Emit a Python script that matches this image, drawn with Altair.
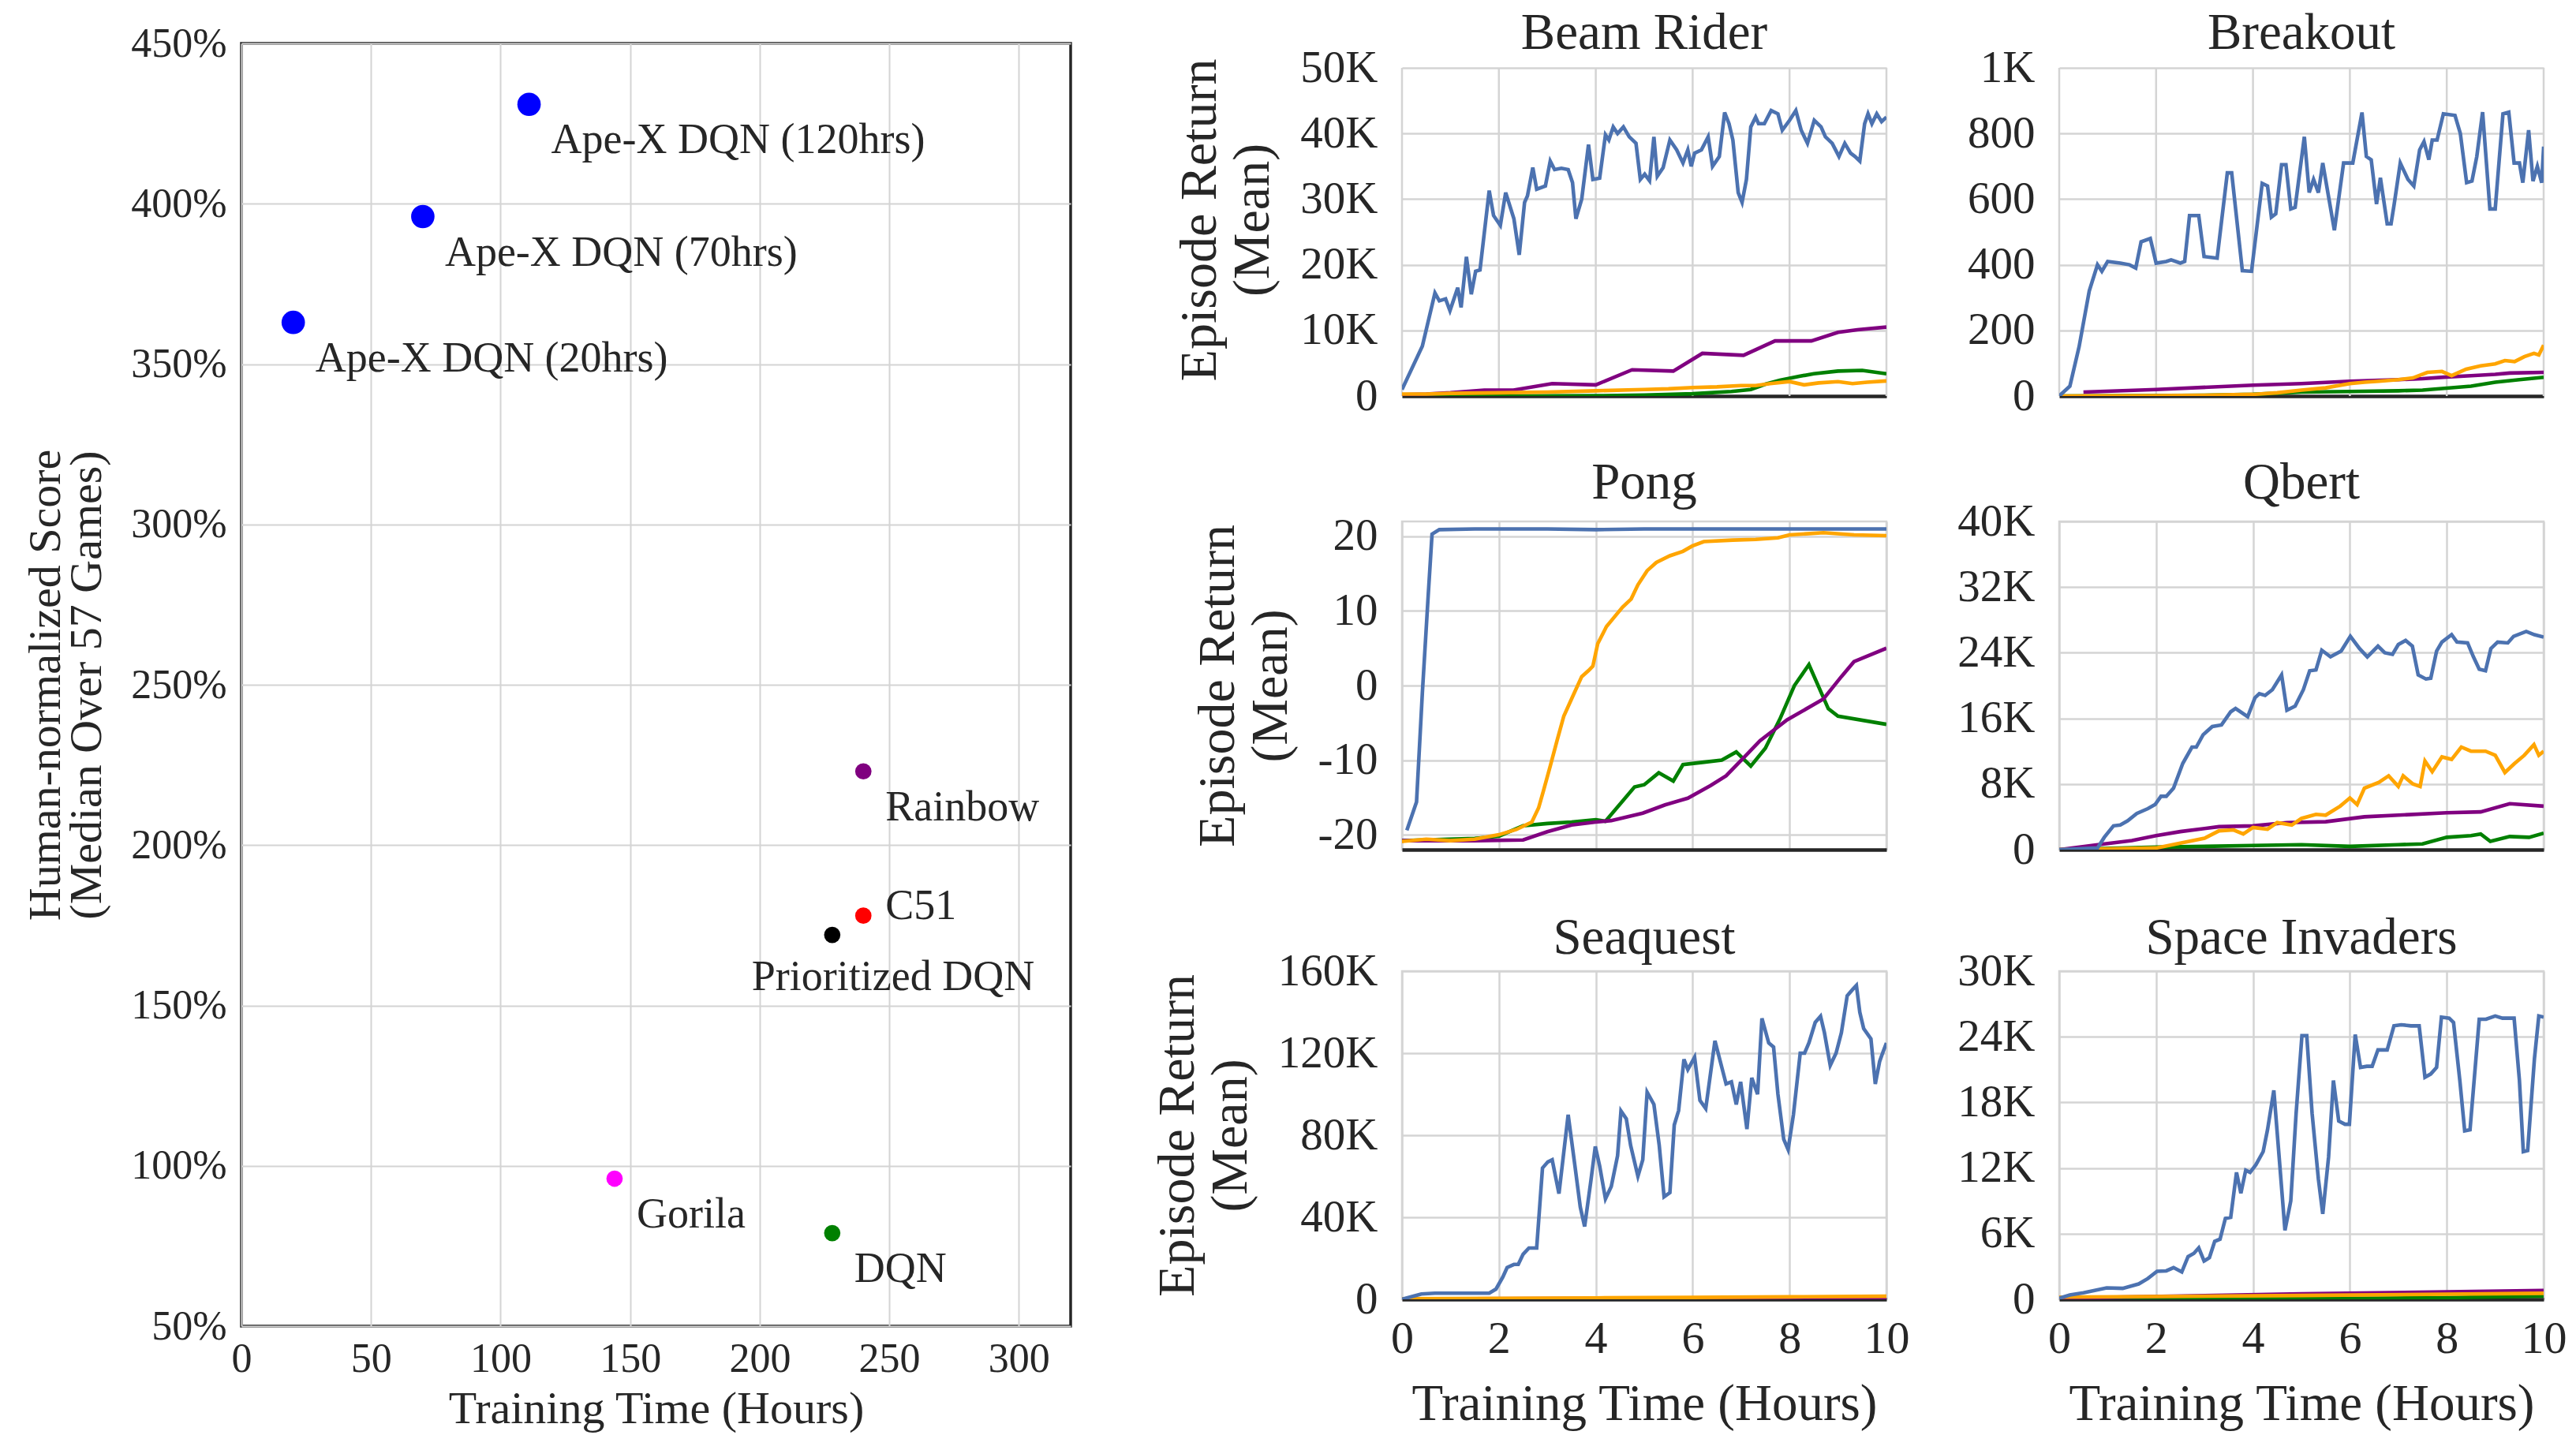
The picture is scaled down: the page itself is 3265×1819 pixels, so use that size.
import altair as alt
import pandas as pd

FONT = "Liberation Serif"
INK = "#262626"
GRID = "#d4d4d4"

# ---------------- left panel: median human-normalized score vs training time
METHODS = ["Ape-X DQN (120hrs)", "Ape-X DQN (70hrs)", "Ape-X DQN (20hrs)",
           "Rainbow", "C51", "Prioritized DQN", "Gorila", "DQN"]
HOURS = [111, 70, 20, 240, 240, 228, 144, 228]
SCORES = [431, 396, 363, 223, 178, 172, 96, 79]
METHOD_COLORS = ["#0000ff", "#0000ff", "#0000ff", "#800080", "#ff0000",
                 "#000000", "#ff00ff", "#008000"]

# ---------------- right panels: learning curves (hours, value)
SERIES = ["DQN", "Rainbow", "A3C", "Ape-X DQN"]
SERIES_COLORS = ["#008000", "#800080", "#ffa500", "#4c72b0"]

# Beam Rider (thousands)
BEAM_APEX = [(0, 1.0), (0.42, 7.6), (0.68, 15.7), (0.77, 14.5), (0.9, 14.8), (0.99, 13.0), (1.15, 16.5),
             (1.22, 13.5), (1.33, 21.2), (1.43, 15.5), (1.52, 19.0), (1.61, 19.2), (1.8, 31.3), (1.89, 27.5),
             (2.03, 26.0), (2.14, 31.0), (2.31, 27.0), (2.42, 21.5), (2.53, 29.5), (2.59, 30.5), (2.7, 34.8),
             (2.78, 31.5), (2.96, 32.0), (3.06, 35.8), (3.15, 34.5), (3.29, 34.7), (3.43, 34.5), (3.52, 32.5),
             (3.59, 27.0), (3.71, 30.0), (3.85, 38.3), (3.94, 33.0), (4.08, 33.2), (4.2, 39.8), (4.27, 39.0),
             (4.36, 41.0), (4.45, 40.0), (4.57, 41.0), (4.69, 39.5), (4.83, 38.5), (4.92, 33.0), (5.01, 33.8),
             (5.11, 32.8), (5.2, 39.5), (5.27, 33.5), (5.39, 34.8), (5.53, 39.0), (5.67, 37.5), (5.8, 35.5),
             (5.9, 37.5), (5.97, 35.0), (6.04, 37.0), (6.18, 37.5), (6.32, 39.5), (6.41, 35.0), (6.55, 36.5),
             (6.66, 43.2), (6.75, 41.5), (6.83, 39.0), (6.94, 31.0), (7.02, 29.5), (7.11, 33.0), (7.2, 41.0),
             (7.3, 42.5), (7.36, 41.5), (7.48, 41.5), (7.62, 43.5), (7.76, 43.0), (7.85, 40.5), (8.0, 42.0),
             (8.13, 43.5), (8.24, 40.5), (8.37, 38.5), (8.51, 42.0), (8.65, 41.0), (8.74, 39.5), (8.88, 38.5),
             (9.02, 36.5), (9.14, 38.5), (9.26, 37.0), (9.35, 36.5), (9.45, 35.8), (9.55, 41.5), (9.62, 43.0),
             (9.7, 41.5), (9.8, 43.0), (9.9, 41.8), (10, 42.5)]
BEAM_RAINBOW = [(0, 0.2), (0.5, 0.3), (1.0, 0.5), (1.7, 0.9), (2.3, 0.9), (3.1, 1.9), (4.0, 1.7), (4.75, 4.0),
                (5.6, 3.8), (6.2, 6.5), (7.05, 6.2), (7.7, 8.4), (8.45, 8.4), (9.0, 9.7), (9.4, 10.1), (10, 10.5)]
BEAM_DQN = [(0, 0.0), (2, 0.0), (4, 0.05), (5, 0.15), (6, 0.35), (6.8, 0.7), (7.2, 1.0), (7.5, 1.8),
            (7.8, 2.4), (8.2, 3.0), (8.5, 3.4), (9.0, 3.8), (9.5, 3.9), (10, 3.4)]
BEAM_A3C = [(0, 0.3), (0.5, 0.3), (1, 0.4), (2, 0.5), (3, 0.6), (4, 0.8), (5, 1.0), (5.5, 1.1), (6, 1.3),
            (6.5, 1.4), (7, 1.6), (7.3, 1.6), (7.6, 1.9), (8, 2.2), (8.3, 1.7), (8.6, 2.0), (9, 2.2),
            (9.3, 1.9), (9.6, 2.1), (10, 2.3)]

# Breakout (raw score)
BREAK_APEX = [(0, 0), (0.22, 30), (0.41, 150), (0.62, 320), (0.79, 400), (0.88, 380), (1.0, 410), (1.26, 405),
              (1.45, 400), (1.58, 390), (1.69, 470), (1.88, 480), (2.0, 405), (2.21, 410), (2.31, 415),
              (2.5, 405), (2.59, 410), (2.69, 550), (2.88, 550), (2.99, 425), (3.26, 420), (3.47, 680),
              (3.56, 680), (3.78, 382), (3.97, 380), (4.19, 648), (4.3, 640), (4.38, 545), (4.47, 555),
              (4.59, 705), (4.68, 705), (4.78, 570), (4.87, 575), (5.06, 790), (5.16, 620), (5.25, 660),
              (5.35, 620), (5.44, 710), (5.68, 505), (5.87, 710), (6.06, 710), (6.25, 864), (6.34, 730),
              (6.44, 720), (6.55, 585), (6.63, 665), (6.77, 525), (6.85, 525), (6.91, 580), (7.04, 710),
              (7.2, 660), (7.32, 640), (7.44, 750), (7.53, 775), (7.63, 720), (7.7, 780), (7.8, 780),
              (7.93, 860), (8.17, 855), (8.28, 800), (8.41, 650), (8.52, 655), (8.62, 730), (8.74, 865),
              (8.89, 570), (9.0, 570), (9.16, 860), (9.28, 865), (9.39, 710), (9.5, 710), (9.57, 650),
              (9.69, 810), (9.78, 655), (9.87, 700), (9.96, 650), (10, 760)]
BREAK_RAINBOW = [(0.5, 12), (2, 20), (4, 33), (5, 38), (6, 45), (7, 50), (7.5, 53), (8, 58), (8.5, 62),
                 (9, 66), (9.3, 70), (10, 72)]
BREAK_A3C = [(0, 0), (2, 1), (3, 2), (4, 5), (4.5, 10), (5, 18), (5.5, 25), (6, 38), (6.3, 42), (6.6, 45),
             (7, 50), (7.3, 55), (7.6, 72), (7.9, 75), (8.1, 62), (8.4, 82), (8.7, 92), (9.0, 98),
             (9.2, 108), (9.4, 105), (9.6, 120), (9.8, 130), (9.9, 125), (10, 155)]
BREAK_DQN = [(0, 0), (3, 2), (4, 5), (5, 12), (6, 14), (7, 16), (7.5, 18), (8, 24), (8.5, 30), (9, 42),
             (9.5, 50), (10, 57)]

# Pong (raw score)
PONG_APEX = [(0.1, -19.4), (0.3, -15.6), (0.42, -1.0), (0.54, 12.0), (0.62, 20.3), (0.77, 20.9), (1.5, 21.0),
             (2, 21.0), (3, 21.0), (4, 20.9), (5, 21.0), (6, 21.0), (7, 21.0), (8, 21.0), (9, 21.0), (10, 21.0)]
PONG_A3C = [(0, -20.9), (0.5, -20.6), (1.0, -20.8), (1.5, -20.6), (2.0, -20.0), (2.36, -19.3), (2.68, -18.3),
            (2.82, -16.4), (2.92, -14.1), (3.06, -10.8), (3.2, -7.4), (3.34, -4.1), (3.52, -1.5), (3.71, 1.2),
            (3.85, 2.0), (3.94, 2.6), (4.04, 5.6), (4.22, 7.9), (4.36, 9.0), (4.55, 10.5), (4.73, 11.6),
            (4.87, 13.5), (5.06, 15.4), (5.25, 16.5), (5.53, 17.4), (5.8, 18.0), (5.99, 18.7), (6.23, 19.3),
            (6.83, 19.5), (7.3, 19.6), (7.76, 19.8), (8, 20.2), (8.7, 20.5), (9.33, 20.2), (10, 20.1)]
PONG_DQN = [(0, -20.8), (1.5, -20.5), (2.0, -20.2), (2.5, -18.8), (3.0, -18.5), (3.5, -18.3), (4.0, -18.0),
            (4.2, -18.2), (4.8, -13.6), (5.0, -13.3), (5.3, -11.7), (5.6, -12.8), (5.8, -10.6), (6.2, -10.3),
            (6.6, -10.0), (6.9, -8.9), (7.2, -10.8), (7.5, -8.4), (7.8, -4.5), (8.1, 0.0), (8.4, 2.8),
            (8.8, -3.1), (9.0, -4.1), (10, -5.2)]
PONG_RAINBOW = [(0, -20.8), (1.5, -20.8), (2.5, -20.7), (3.0, -19.6), (3.5, -18.7), (4.0, -18.3),
                (4.32, -18.1), (4.97, -17.1), (5.43, -16.0), (5.9, -15.1), (6.37, -13.4), (6.69, -12.1),
                (7.11, -9.3), (7.39, -7.4), (7.95, -4.6), (8.7, -1.8), (9.07, 1.2), (9.33, 3.2), (10, 5.0)]

# Qbert (thousands)
QBERT_APEX = [(0, 0), (0.79, 0.2), (0.93, 1.5), (1.12, 2.9), (1.26, 3.0), (1.41, 3.5), (1.6, 4.4), (1.83, 5.0),
              (1.98, 5.5), (2.1, 6.5), (2.21, 6.5), (2.36, 7.5), (2.55, 10.5), (2.74, 12.5), (2.83, 12.5),
              (2.97, 14.0), (3.16, 15.0), (3.35, 15.2), (3.54, 16.8), (3.64, 17.2), (3.89, 16.2), (4.04, 18.5),
              (4.13, 19.0), (4.25, 18.8), (4.4, 19.5), (4.59, 21.3), (4.7, 17.0), (4.87, 17.5), (5.04, 19.5),
              (5.17, 21.8), (5.3, 21.9), (5.42, 24.3), (5.6, 23.5), (5.82, 24.2), (6.01, 26.0), (6.2, 24.5),
              (6.36, 23.5), (6.58, 24.8), (6.72, 24.0), (6.88, 23.8), (7.0, 25.0), (7.15, 25.5), (7.29, 24.8),
              (7.41, 21.3), (7.57, 20.8), (7.67, 20.9), (7.79, 24.2), (7.9, 25.3), (8.1, 26.2), (8.21, 25.3),
              (8.43, 25.2), (8.55, 23.5), (8.67, 22.0), (8.8, 21.8), (8.91, 24.5), (9.05, 25.3), (9.26, 25.2),
              (9.38, 26.0), (9.64, 26.6), (9.81, 26.2), (10, 25.9)]
QBERT_A3C = [(0, 0), (1, 0.1), (2, 0.2), (2.5, 0.8), (3, 1.4), (3.3, 2.3), (3.6, 2.4), (3.8, 1.9), (4.0, 2.7),
             (4.3, 2.5), (4.5, 3.3), (4.8, 3.0), (5.0, 3.8), (5.3, 4.3), (5.5, 4.2), (5.8, 5.3), (6.0, 6.3),
             (6.15, 5.5), (6.3, 7.5), (6.6, 8.2), (6.8, 9.0), (7.0, 7.7), (7.1, 9.0), (7.3, 8.0), (7.45, 7.7),
             (7.55, 10.8), (7.7, 9.5), (7.9, 11.3), (8.1, 11.0), (8.3, 12.5), (8.5, 12.0), (8.8, 12.0),
             (9.0, 11.5), (9.2, 9.4), (9.4, 10.5), (9.6, 11.5), (9.8, 12.8), (9.9, 11.5), (10, 12.0)]
QBERT_RAINBOW = [(0, 0), (0.8, 0.6), (1.5, 1.1), (2.0, 1.7), (2.5, 2.2), (3.3, 2.8), (4.0, 2.9), (4.7, 3.3),
                 (5.5, 3.4), (6.3, 4.0), (7.0, 4.2), (8.0, 4.5), (8.7, 4.6), (9.3, 5.6), (10, 5.3)]
QBERT_DQN = [(0, 0), (2, 0.3), (4, 0.5), (5, 0.6), (6, 0.4), (7, 0.6), (7.5, 0.7), (8, 1.5), (8.5, 1.7),
             (8.7, 1.9), (8.9, 1.0), (9.3, 1.6), (9.7, 1.5), (10, 2.0)]

# Seaquest (thousands)
SEA_APEX = [(0, 0), (0.4, 2.6), (0.68, 3.0), (1.24, 3.0), (1.8, 3.0), (1.94, 5.0), (2.08, 10.8), (2.17, 15.5),
            (2.31, 17.0), (2.4, 17.0), (2.5, 22.0), (2.62, 25.0), (2.78, 25.0), (2.9, 64.0), (3.01, 67.0),
            (3.1, 68.0), (3.24, 51.5), (3.43, 90.0), (3.57, 65.0), (3.68, 45.0), (3.77, 35.5), (3.9, 58.0),
            (3.99, 74.5), (4.08, 65.0), (4.2, 49.0), (4.32, 55.0), (4.45, 70.0), (4.52, 91.8), (4.63, 88.0),
            (4.72, 75.0), (4.87, 60.0), (4.97, 68.0), (5.06, 101.0), (5.2, 95.0), (5.31, 75.0), (5.41, 50.0),
            (5.53, 52.0), (5.62, 85.0), (5.71, 92.0), (5.82, 117.0), (5.9, 112.0), (6.04, 118.0), (6.15, 97.0),
            (6.27, 93.0), (6.46, 126.0), (6.69, 105.0), (6.8, 106.0), (6.9, 95.0), (6.99, 106.0), (7.12, 83.0),
            (7.22, 108.0), (7.34, 100.0), (7.43, 137.0), (7.57, 125.0), (7.67, 123.0), (7.76, 100.0),
            (7.88, 78.0), (7.97, 73.0), (8.08, 90.0), (8.22, 120.0), (8.31, 120.0), (8.4, 125.0), (8.53, 135.0),
            (8.64, 138.0), (8.72, 130.0), (8.84, 114.0), (8.96, 120.0), (9.07, 130.0), (9.19, 148.0),
            (9.3, 151.0), (9.38, 153.0), (9.45, 140.0), (9.53, 132.0), (9.68, 127.0), (9.77, 105.0),
            (9.86, 116.0), (9.92, 120.0), (10, 125.0)]
SEA_A3C = [(0, 0.3), (2, 0.5), (4, 0.7), (6, 0.9), (8, 1.2), (10, 1.5)]
SEA_RAINBOW = [(0, 0.2), (5, 0.5), (10, 0.8)]
SEA_DQN = [(0, 0.0), (5, 0.1), (10, 0.3)]

# Space Invaders (thousands)
SPACE_APEX = [(0, 0.1), (0.22, 0.4), (0.5, 0.6), (0.98, 1.05), (1.31, 1.0), (1.64, 1.4), (1.83, 1.9),
              (2.02, 2.56), (2.21, 2.6), (2.36, 2.9), (2.53, 2.5), (2.66, 3.9), (2.78, 4.2), (2.88, 4.7),
              (2.99, 3.5), (3.1, 3.8), (3.21, 5.3), (3.32, 5.5), (3.43, 7.4), (3.54, 7.5), (3.66, 11.6),
              (3.75, 9.7), (3.85, 11.8), (3.94, 11.6), (4.06, 12.3), (4.21, 13.5), (4.3, 15.5), (4.43, 19.1),
              (4.54, 13.0), (4.66, 6.3), (4.78, 9.0), (4.89, 17.0), (5.01, 24.1), (5.11, 24.1), (5.22, 17.0),
              (5.35, 11.0), (5.44, 7.8), (5.56, 13.0), (5.66, 20.0), (5.77, 16.3), (5.9, 16.0), (5.99, 16.0),
              (6.11, 24.2), (6.22, 21.2), (6.35, 21.3), (6.46, 21.3), (6.58, 22.8), (6.77, 22.8), (6.91, 25.0),
              (7.06, 25.1), (7.26, 25.0), (7.43, 25.0), (7.55, 20.3), (7.67, 20.6), (7.79, 21.2), (7.89, 25.8),
              (8.05, 25.7), (8.14, 25.3), (8.27, 20.0), (8.37, 15.4), (8.48, 15.5), (8.67, 25.6), (8.81, 25.6),
              (9.0, 25.9), (9.15, 25.7), (9.39, 25.7), (9.5, 20.0), (9.58, 13.5), (9.67, 13.6), (9.81, 22.0),
              (9.9, 25.9), (10, 25.8)]
SPACE_RAINBOW = [(0, 0.1), (5, 0.5), (10, 0.8)]
SPACE_A3C = [(0, 0.2), (5, 0.35), (10, 0.55)]
SPACE_DQN = [(0, 0.0), (5, 0.05), (8, 0.15), (10, 0.3)]

X_TICKS = [0, 2, 4, 6, 8, 10]
LEFT_X_TICKS = [0, 50, 100, 150, 200, 250, 300]
LEFT_Y_TICKS = [50, 100, 150, 200, 250, 300, 350, 400, 450]

# game: (title, {series: points}, unit multiplier, y ticks, visible y range)
GAMES = [
    ("Beam Rider", {"DQN": BEAM_DQN, "Rainbow": BEAM_RAINBOW, "A3C": BEAM_A3C, "Ape-X DQN": BEAM_APEX},
     1000, [0, 10000, 20000, 30000, 40000, 50000], [0, 50000]),
    ("Breakout", {"DQN": BREAK_DQN, "Rainbow": BREAK_RAINBOW, "A3C": BREAK_A3C, "Ape-X DQN": BREAK_APEX},
     1, [0, 200, 400, 600, 800, 1000], [0, 1000]),
    ("Pong", {"DQN": PONG_DQN, "Rainbow": PONG_RAINBOW, "A3C": PONG_A3C, "Ape-X DQN": PONG_APEX},
     1, [-20, -10, 0, 10, 20], [-22, 22]),
    ("Qbert", {"DQN": QBERT_DQN, "Rainbow": QBERT_RAINBOW, "A3C": QBERT_A3C, "Ape-X DQN": QBERT_APEX},
     1000, [0, 8000, 16000, 24000, 32000, 40000], [0, 40000]),
    ("Seaquest", {"DQN": SEA_DQN, "Rainbow": SEA_RAINBOW, "A3C": SEA_A3C, "Ape-X DQN": SEA_APEX},
     1000, [0, 40000, 80000, 120000, 160000], [0, 160000]),
    ("Space Invaders", {"DQN": SPACE_DQN, "Rainbow": SPACE_RAINBOW, "A3C": SPACE_A3C, "Ape-X DQN": SPACE_APEX},
     1000, [0, 6000, 12000, 18000, 24000, 30000], [0, 30000]),
]

PANEL_W = 614
PANEL_H = 416
TOP_EXTRA = 31   # first-row plot areas start this much above their top gridline

# ---------------- left chart
left_df = pd.DataFrame({"method": METHODS, "hours": HOURS, "score": SCORES})

lx = alt.X("hours:Q", scale=alt.Scale(domain=[0, 320], nice=False, zero=False),
           axis=alt.Axis(values=LEFT_X_TICKS, title="Training Time (Hours)", grid=True,
                         gridColor=GRID, gridWidth=2, domain=False, ticks=False, tickSize=0,
                         labelFontSize=52, labelPadding=16, labelFlush=False,
                         titleFontSize=58, titlePadding=9))
ly = alt.Y("score:Q", scale=alt.Scale(domain=[50, 450], nice=False, zero=False),
           axis=alt.Axis(values=LEFT_Y_TICKS, labelExpr="datum.value + '%'",
                         title=["Human-normalized Score", "(Median Over 57 Games)"],
                         grid=True, gridColor=GRID, gridWidth=2, domain=False, ticks=False, tickSize=0,
                         labelFontSize=52, labelPadding=19, titleFontSize=58, titlePadding=26,
                         titleLineHeight=52))
lcolor = alt.Color("method:N", scale=alt.Scale(domain=METHODS, range=METHOD_COLORS), legend=None)

lbase = alt.Chart(left_df)
big = lbase.transform_filter("indexof(datum.method, 'Ape-X') == 0").mark_circle(
    size=880, opacity=1).encode(x=lx, y=ly, color=lcolor)
small = lbase.transform_filter("indexof(datum.method, 'Ape-X') < 0").mark_circle(
    size=430, opacity=1).encode(x=lx, y=ly, color=lcolor)
txt = dict(font=FONT, fontSize=54, color=INK, align="left", baseline="middle")
lab_main = lbase.transform_filter(
    "datum.method != 'C51' && datum.method != 'Prioritized DQN'").mark_text(
    dx=28, dy=46, **txt).encode(x=lx, y=ly, text="method:N")
lab_c51 = lbase.transform_filter("datum.method == 'C51'").mark_text(
    dx=28, dy=-12, **txt).encode(x=lx, y=ly, text="method:N")
lab_pdqn = lbase.transform_filter("datum.method == 'Prioritized DQN'").mark_text(
    dx=-102, dy=54, **txt).encode(x=lx, y=ly, text="method:N")

left = alt.layer(big, small, lab_main, lab_c51, lab_pdqn).properties(
    width=1051, height=1626,
    view=alt.ViewBackground(stroke=INK, strokeWidth=3.5),
)


# ---------------- right panels
def panel(i, game):
    title, curves, mult, yticks, yrange = game
    rows = []
    for name in SERIES:
        for t, v in curves[name]:
            rows.append({"series": name, "hours": t, "value": v * mult})
    df = pd.DataFrame(rows)
    bottom = i >= 4
    first_col = i % 2 == 0
    top_row = i < 2
    lo, hi = yrange
    height = PANEL_H
    if top_row:
        hi = hi + (hi - lo) * TOP_EXTRA / PANEL_H
        height = PANEL_H + TOP_EXTRA
    if top_row:
        toff = -21
    elif title == "Pong":
        toff = 5
    elif bottom:
        toff = -21
    else:
        toff = -14
    xscale = alt.Scale(domain=[0, 10], nice=False, zero=False)
    yscale = alt.Scale(domain=[lo, hi], nice=False, zero=False)
    xaxis = alt.Axis(values=X_TICKS, labels=bottom, title="Training Time (Hours)" if bottom else None,
                     grid=not top_row, gridColor=GRID, gridWidth=2.5, domain=True, domainColor=INK,
                     domainWidth=4.5, ticks=False, tickSize=0, labelFontSize=58, labelPadding=21,
                     labelFlush=False, titleFontSize=65, titlePadding=22)
    yaxis = alt.Axis(values=yticks,
                     labelExpr="datum.value >= 1000 ? (datum.value / 1000) + 'K' : datum.value + ''",
                     title=["Episode Return", "(Mean)"] if first_col else None,
                     grid=True, gridColor=GRID, gridWidth=2.5, domain=False, ticks=False, tickSize=0,
                     labelFontSize=57, labelPadding=31, titleFontSize=66, titlePadding=26,
                     titleLineHeight=67)
    lines = alt.Chart(df).mark_line(strokeWidth=4.6, clip=True).encode(
        x=alt.X("hours:Q", scale=xscale, axis=xaxis),
        y=alt.Y("value:Q", scale=yscale, axis=yaxis),
        color=alt.Color("series:N", scale=alt.Scale(domain=SERIES, range=SERIES_COLORS), legend=None),
    )
    props = dict(width=PANEL_W, height=height,
                 title=alt.TitleParams(title, font=FONT, fontSize=65, fontWeight="normal", color=INK,
                                       anchor="middle", frame="group", offset=toff))
    if top_row:
        # vertical grid lines that stop at the top tick, like the frame of the original
        vdf = pd.DataFrame({"hours": X_TICKS, "lo": [yticks[0]] * len(X_TICKS),
                            "hi": [yticks[-1]] * len(X_TICKS)})
        vgrid = alt.Chart(vdf).mark_rule(color=GRID, strokeWidth=2.5).encode(
            x=alt.X("hours:Q", scale=xscale, axis=xaxis),
            y=alt.Y("lo:Q", scale=yscale, axis=yaxis),
            y2="hi:Q",
        )
        return alt.layer(vgrid, lines).properties(
            view=alt.ViewBackground(stroke="transparent", strokeWidth=0), **props)
    return lines.properties(**props)


panels = [panel(i, g) for i, g in enumerate(GAMES)]
grid = alt.concat(*panels, columns=2, spacing={"row": 48, "column": 57}, align="each")

chart = alt.hconcat(alt.vconcat(left), grid, spacing=99).resolve_scale(
    color="independent"
).properties(
    padding={"left": 27, "top": 10, "right": 0, "bottom": 0},
    background="white",
).configure_axis(
    labelFont=FONT, titleFont=FONT, labelColor=INK, titleColor=INK, titleFontWeight="normal",
    labelFontWeight="normal",
).configure_view(
    stroke=GRID, strokeWidth=2.5,
)

chart.save("out.html", embed_options={"renderer": "svg", "actions": False})
